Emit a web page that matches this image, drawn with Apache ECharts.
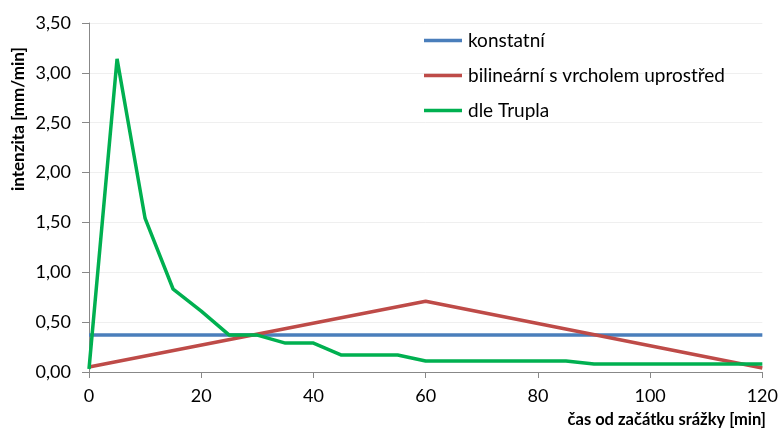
<!DOCTYPE html>
<html><head><meta charset="utf-8">
<script src="https://cdn.jsdelivr.net/npm/echarts@6/dist/echarts.min.js"></script>
<style>html,body{margin:0;padding:0;background:#fff}#c{width:781px;height:430px}</style>
</head><body><div id="c"></div>
<script>
var seriesNames = ['konstatní', 'bilineární s vrcholem uprostřed', 'dle Trupla'];
var constantX = [0, 120];
var constantY = [0.37, 0.37];
var bilinearX = [0, 60, 120];
var bilinearY = [0.05, 0.71, 0.04];
var truplaX = [0, 5, 10, 15, 20, 25, 30, 35, 40, 45, 50, 55, 60, 65, 70, 75, 80, 85, 90, 95, 100, 105, 110, 115, 120];
var truplaY = [0.03, 3.14, 1.54, 0.83, 0.61, 0.37, 0.37, 0.29, 0.29, 0.17, 0.17, 0.17, 0.11, 0.11, 0.11, 0.11, 0.11, 0.11, 0.08, 0.08, 0.08, 0.08, 0.08, 0.08, 0.08];
var xTicks = [0, 20, 40, 60, 80, 100, 120];
var yTicks = [0, 0.5, 1, 1.5, 2, 2.5, 3, 3.5];
var xTitle = 'čas od začátku srážky [min]';
var yTitle = 'intenzita [mm/min]';

function pairs(xs, ys){ return xs.map(function(x,i){ return [x, ys[i]]; }); }
var FONT = 'Lato';
var chart = echarts.init(document.getElementById('c'));
chart.setOption({
  animation: false,
  textStyle: {fontFamily: FONT},
  grid: {left: 89, right: 16, top: 23, bottom: 58, containLabel: false},
  legend: {
    orient: 'vertical', left: 424, top: 31, padding: 0, itemWidth: 38, itemHeight: 3.5, itemGap: 16,
    icon: 'rect',
    textStyle: {fontFamily: FONT, fontSize: 19, color: '#000', padding: [0, 0, 0, 1]},
    data: seriesNames.map(function(n){ return {name: n}; })
  },
  xAxis: {
    type: 'value', min: xTicks[0], max: xTicks[xTicks.length-1], interval: 20,
    axisLine: {lineStyle: {color: '#888', width: 1}},
    axisTick: {show: true, length: 6, lineStyle: {color: '#888'}},
    axisLabel: {fontSize: 18, color: '#000', margin: 15, fontFamily: FONT},
    splitLine: {show: false}
  },
  yAxis: {
    type: 'value', min: yTicks[0], max: yTicks[yTicks.length-1], interval: 0.5,
    axisLine: {show: true, lineStyle: {color: '#888', width: 1}},
    axisTick: {show: true, length: 7, lineStyle: {color: '#888'}},
    axisLabel: {fontSize: 18, color: '#000', margin: 18, fontFamily: FONT,
      formatter: function(v){ return v.toFixed(2).replace('.', ','); }},
    splitLine: {show: true, lineStyle: {color: '#efefef', width: 1}}
  },
  graphic: [
    {type: 'text', right: 15, top: 411, style: {text: xTitle, font: 'bold 16.5px ' + FONT, fill: '#000'}},
    {type: 'text', x: 10, y: 191, rotation: Math.PI/2, style: {text: yTitle, font: 'bold 17px ' + FONT, fill: '#000', textVerticalAlign: 'top'}}
  ],
  series: [
    {name: seriesNames[0], type: 'line', data: pairs(constantX, constantY), symbol: 'none', lineStyle: {color: '#4A7EBB', width: 3.5}, itemStyle: {color: '#4A7EBB'}},
    {name: seriesNames[1], type: 'line', data: pairs(bilinearX, bilinearY), symbol: 'none', lineStyle: {color: '#BE4B48', width: 3.5}, itemStyle: {color: '#BE4B48'}},
    {name: seriesNames[2], type: 'line', data: pairs(truplaX, truplaY), symbol: 'none', lineStyle: {color: '#00B050', width: 3.5}, itemStyle: {color: '#00B050'}}
  ]
});
</script></body></html>
